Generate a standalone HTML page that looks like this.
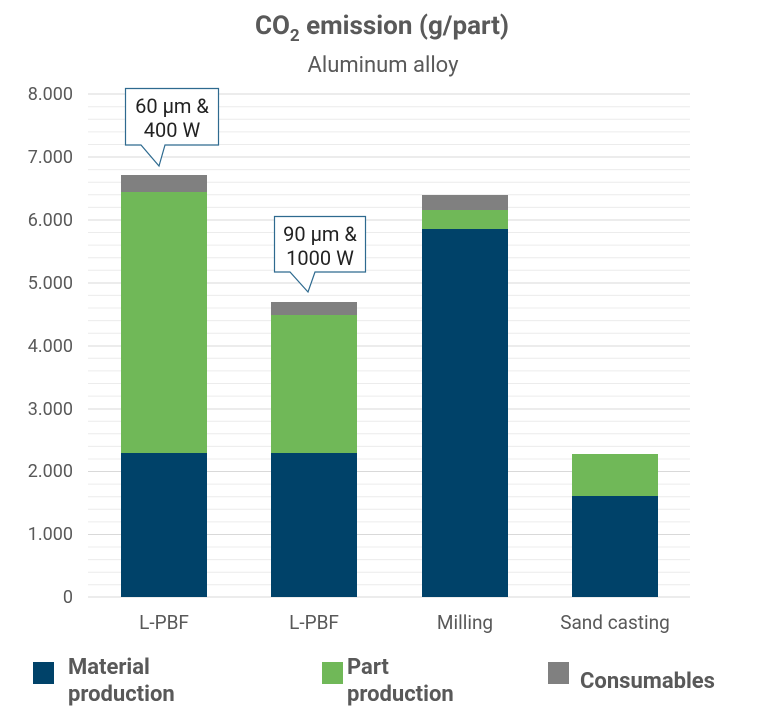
<!DOCTYPE html>
<html><head><meta charset="utf-8"><style>
body{margin:0;background:#fff}
svg{display:block;font-family:"Roboto","Liberation Sans",sans-serif}
</style></head><body>
<svg width="768" height="721" viewBox="0 0 768 721">
<rect width="768" height="721" fill="#fff"/>
<text x="382" y="34" text-anchor="middle" font-size="26" font-weight="bold" fill="#595959">CO<tspan font-size="17" dy="7">2</tspan><tspan dy="-7"> emission (g/part)</tspan></text>
<text x="383" y="72" text-anchor="middle" font-size="22" fill="#595959">Aluminum alloy</text>
<g stroke="#ececec">
<line x1="88" x2="690" y1="106.7" y2="106.7"/><line x1="88" x2="690" y1="119.3" y2="119.3"/><line x1="88" x2="690" y1="131.9" y2="131.9"/><line x1="88" x2="690" y1="144.5" y2="144.5"/>
<line x1="88" x2="690" y1="169.6" y2="169.6"/><line x1="88" x2="690" y1="182.2" y2="182.2"/><line x1="88" x2="690" y1="194.8" y2="194.8"/><line x1="88" x2="690" y1="207.4" y2="207.4"/>
<line x1="88" x2="690" y1="232.5" y2="232.5"/><line x1="88" x2="690" y1="245.1" y2="245.1"/><line x1="88" x2="690" y1="257.7" y2="257.7"/><line x1="88" x2="690" y1="270.3" y2="270.3"/>
<line x1="88" x2="690" y1="295.4" y2="295.4"/><line x1="88" x2="690" y1="308" y2="308"/><line x1="88" x2="690" y1="320.6" y2="320.6"/><line x1="88" x2="690" y1="333.2" y2="333.2"/>
<line x1="88" x2="690" y1="358.3" y2="358.3"/><line x1="88" x2="690" y1="370.9" y2="370.9"/><line x1="88" x2="690" y1="383.5" y2="383.5"/><line x1="88" x2="690" y1="396.1" y2="396.1"/>
<line x1="88" x2="690" y1="421.2" y2="421.2"/><line x1="88" x2="690" y1="433.8" y2="433.8"/><line x1="88" x2="690" y1="446.4" y2="446.4"/><line x1="88" x2="690" y1="459" y2="459"/>
<line x1="88" x2="690" y1="484.1" y2="484.1"/><line x1="88" x2="690" y1="496.7" y2="496.7"/><line x1="88" x2="690" y1="509.3" y2="509.3"/><line x1="88" x2="690" y1="521.9" y2="521.9"/>
<line x1="88" x2="690" y1="547" y2="547"/><line x1="88" x2="690" y1="559.6" y2="559.6"/><line x1="88" x2="690" y1="572.2" y2="572.2"/><line x1="88" x2="690" y1="584.8" y2="584.8"/>
</g>
<g stroke="#d9d9d9">
<line x1="88" x2="690" y1="94" y2="94"/><line x1="88" x2="690" y1="157" y2="157"/><line x1="88" x2="690" y1="220" y2="220"/><line x1="88" x2="690" y1="283" y2="283"/><line x1="88" x2="690" y1="346" y2="346"/><line x1="88" x2="690" y1="409" y2="409"/><line x1="88" x2="690" y1="471.5" y2="471.5"/><line x1="88" x2="690" y1="534.5" y2="534.5"/><line x1="88" x2="690" y1="597" y2="597"/>
</g>
<g font-size="18" fill="#595959" text-anchor="end">
<text x="73" y="100">8.000</text><text x="73" y="163">7.000</text><text x="73" y="226">6.000</text><text x="73" y="289">5.000</text><text x="73" y="352">4.000</text><text x="73" y="415">3.000</text><text x="73" y="477">2.000</text><text x="73" y="540">1.000</text><text x="73" y="603">0</text>
</g>
<rect x="121" y="453" width="86" height="144" fill="#004269"/>
<rect x="121" y="192" width="86" height="261" fill="#70b858"/>
<rect x="121" y="175" width="86" height="17" fill="#808080"/>
<rect x="271" y="453" width="86" height="144" fill="#004269"/>
<rect x="271" y="315" width="86" height="138" fill="#70b858"/>
<rect x="271" y="302" width="86" height="13" fill="#808080"/>
<rect x="422" y="229" width="86" height="368" fill="#004269"/>
<rect x="422" y="210" width="86" height="19" fill="#70b858"/>
<rect x="422" y="195" width="86" height="15" fill="#808080"/>
<rect x="572" y="496" width="86" height="101" fill="#004269"/>
<rect x="572" y="454" width="86" height="42" fill="#70b858"/>
<g font-size="19" fill="#595959" text-anchor="middle">
<text x="164" y="629">L-PBF</text><text x="314" y="629">L-PBF</text><text x="465" y="629">Milling</text><text x="615" y="629">Sand casting</text>
</g>
<path d="M125.5,88.5 H218.5 V145 H165 L159,166 L141,145 H125.5 Z" fill="#fff" stroke="#2e6a8f" stroke-width="1.2"/>
<path d="M274.5,216.5 H365.5 V272 H315 L308,292 L290,272 H274.5 Z" fill="#fff" stroke="#2e6a8f" stroke-width="1.2"/>
<g font-size="20" fill="#222" text-anchor="middle">
<text x="172" y="113">60 µm &amp;</text><text x="172" y="137">400 W</text>
<text x="320" y="241">90 µm &amp;</text><text x="320" y="265">1000 W</text>
</g>
<rect x="33" y="662" width="21" height="22" fill="#004269"/>
<rect x="322" y="662" width="21" height="22" fill="#70b858"/>
<rect x="548" y="662" width="21" height="22" fill="#808080"/>
<g font-size="22" font-weight="bold" fill="#595959">
<text x="68" y="674">Material</text><text x="68" y="701">production</text>
<text x="347" y="674">Part</text><text x="347" y="701">production</text>
<text x="580" y="688">Consumables</text>
</g>
</svg>
</body></html>
